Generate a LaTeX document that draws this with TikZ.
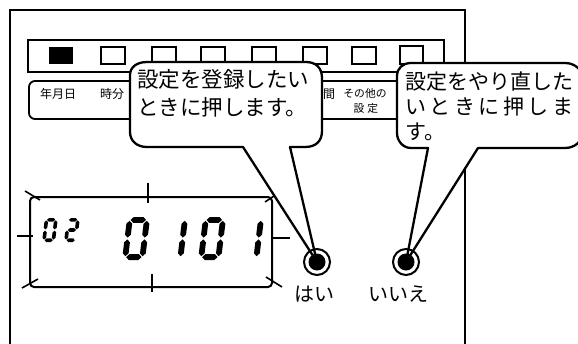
\documentclass[tikz,border=0pt]{standalone}
\usepackage{fontspec}
\newfontfamily\jp{Noto Sans CJK JP}
\newcommand\Hs[4]{\fill ({#1},{#3}) -- ({(#1)+(#4)/2},{(#3)+(#4)/2}) -- ({(#2)-(#4)/2},{(#3)+(#4)/2}) -- ({#2},{#3}) -- ({(#2)-(#4)/2},{(#3)-(#4)/2}) -- ({(#1)+(#4)/2},{(#3)-(#4)/2}) -- cycle;}
\newcommand\Vs[4]{\fill ({#3},{#1}) -- ({(#3)+(#4)/2},{(#1)+(#4)/2}) -- ({(#3)+(#4)/2},{(#2)-(#4)/2}) -- ({#3},{#2}) -- ({(#3)-(#4)/2},{(#2)-(#4)/2}) -- ({(#3)-(#4)/2},{(#1)+(#4)/2}) -- cycle;}
\newcommand\segA{\Hs{\lcdT/2+\lcdG}{\lcdW-\lcdT/2-\lcdG}{\lcdH-\lcdT/2}{\lcdT}}
\newcommand\segB{\Vs{\lcdH/2+\lcdG}{\lcdH-\lcdT/2-\lcdG}{\lcdW-\lcdT/2}{\lcdT}}
\newcommand\segC{\Vs{\lcdT/2+\lcdG}{\lcdH/2-\lcdG}{\lcdW-\lcdT/2}{\lcdT}}
\newcommand\segD{\Hs{\lcdT/2+\lcdG}{\lcdW-\lcdT/2-\lcdG}{\lcdT/2}{\lcdT}}
\newcommand\segE{\Vs{\lcdT/2+\lcdG}{\lcdH/2-\lcdG}{\lcdT/2}{\lcdT}}
\newcommand\segF{\Vs{\lcdH/2+\lcdG}{\lcdH-\lcdT/2-\lcdG}{\lcdT/2}{\lcdT}}
\newcommand\segG{\Hs{\lcdT/2+\lcdG}{\lcdW-\lcdT/2-\lcdG}{\lcdH/2}{\lcdT}}
\newcommand\lcdDigit[3]{\begin{scope}[shift={(#1,#2)},y=1pt,xslant=0.12]#3\end{scope}}
\newcommand\dZero{\segA\segB\segC\segD\segE\segF}
\newcommand\dOne{\segB\segC}
\newcommand\dTwo{\segA\segB\segG\segE\segD}
\tikzset{
  frame/.style={line width=2.4pt},
  bar/.style={line width=2pt},
  sq/.style={line width=1.8pt},
  tick/.style={line width=1.6pt},
  bubble/.style={fill=white, draw=black, line width=2.3pt, line join=round},
  lbl/.style={inner sep=0pt, font=\jp\fontsize{12}{12}\selectfont},
  btn/.style={circle, draw, line width=2pt, minimum size=26pt, inner sep=0pt},
  btxt/.style={inner sep=0pt, font=\jp\fontsize{20}{20}\selectfont},
  bubtxt/.style={inner sep=0pt, anchor=west, font=\jp\fontsize{21.5}{21.5}\selectfont},
}
\begin{document}
\begin{tikzpicture}[x=1pt,y=-1pt]
\useasboundingbox (0,0) rectangle (578,343);
\clip (0,0) rectangle (578,343);
% outer frame
\draw[frame] (10,350) -- (10,10) -- (465,10) -- (465,350);
% top bar
\draw[bar] (28,40) rectangle (444,72);
\fill (49,47) rectangle (73,64);
\foreach \x in {101,152,201,252,303,352}{
  \draw[sq] (\x,47) rectangle ++(24,17);
}
\draw[sq] (400,46) rectangle (423,64);
% label box
\draw[line width=1.8pt, rounded corners=6pt] (29,81) rectangle (444,119);
\node[lbl] (l1) at (58,94) {年月日};
\node[lbl] (l2) at (112,94) {時分};
\node[lbl] (l6) at (323,94) {時間};
\node[lbl, font=\jp\fontsize{10.8}{10.8}\selectfont] (l7a) at (365,93) {その他の};
\node[lbl, font=\jp\fontsize{10.8}{10.8}\selectfont] (l7b) at (366,108) {設\hspace{3pt}定};
% LCD
\draw[line width=2pt, rounded corners=4pt] (30,197) rectangle (272,287);
\draw[tick] (148,183) -- (148,203);
\draw[tick] (152,274) -- (152,292);
\draw[tick] (17,236) -- (33,236);
\draw[tick] (272,238) -- (290,238);
\draw[tick] (25,191) -- (40,200);
\draw[tick] (22,288) -- (38,279);
\draw[tick] (266,277) -- (282,287);
\draw[tick] (265,202) -- (280,192);
% small digits 02
\def\lcdW{13}\def\lcdH{24}\def\lcdT{3.6}\def\lcdG{0.6}
\lcdDigit{42}{242}{\dZero}
\lcdDigit{64}{242}{\dTwo}
% big digits 0101
\def\lcdW{23}\def\lcdH{43}\def\lcdT{5.8}\def\lcdG{0.9}
\lcdDigit{122}{260}{\dZero}
\lcdDigit{160}{260}{\dOne}
\lcdDigit{198}{260}{\dZero}
\lcdDigit{236}{260}{\dOne}
% buttons (positions)
\coordinate (yesc) at (317,262);
\coordinate (noc) at (406,262);
% bubbles
\draw[bubble] (147,62) -- (306,62) .. controls (316,62) and (322,68) .. (322,78)
  -- (322,131) .. controls (322,141) and (316,147) .. (305,147) -- (290,147)
  -- (yesc) -- (243,147) -- (147,147) .. controls (137,147) and (130,141) .. (130,132)
  -- (130,75) .. controls (130,67) and (137,62) .. (147,62) -- cycle;
\draw[bubble] (411,63) -- (565,63) .. controls (575,63) and (583,70) .. (583,80)
  -- (583,131) .. controls (583,141) and (575,148) .. (565,148) -- (478,148)
  -- (noc) -- (428,148) -- (411,148) .. controls (403,148) and (397,141) .. (397,133)
  -- (397,76) .. controls (397,68) and (403,63) .. (411,63) -- cycle;
% bubble texts
\node[bubtxt] (lt1) at (137,79) {設定を登録したい};
\node[bubtxt] (lt2) at (137,107) {ときに押します。};
\node[bubtxt, font=\jp\fontsize{21}{21}\selectfont] (rt1) at (405,82) {設定をやり直した};
\node[bubtxt, font=\jp\fontsize{21}{21}\selectfont] (rt2) at (405,107) {\hbox to 168pt{い\hfil と\hfil き\hfil に\hfil 押\hfil し\hfil ま}};
\node[bubtxt, font=\jp\fontsize{21}{21}\selectfont] (rt3) at (405,132) {す。};
% buttons
\node[btn] (yes) at (yesc) {};
\fill (yes.center) circle (8.5pt);
\node[btn] (no) at (noc) {};
\fill (no.center) circle (8.5pt);
\node[btxt] (yesl) at (314,294) {はい};
\node[btxt] (nol) at (398,294) {いいえ};
\end{tikzpicture}
\end{document}
